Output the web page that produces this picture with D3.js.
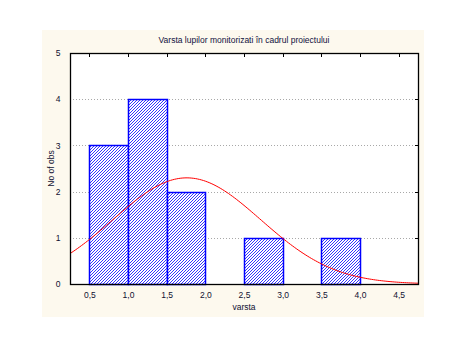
<!DOCTYPE html>
<html>
<head>
<meta charset="utf-8">
<script src="https://cdn.jsdelivr.net/npm/d3@7"></script>
<style>
  html, body { margin: 0; padding: 0; background: #ffffff; }
  svg { display: block; }
  text { font-family: "Liberation Sans", Arial, sans-serif; }
</style>
</head>
<body>
<div id="chart"></div>
<script>
// Histogram of wolf ages with a fitted normal curve
const binStarts = [0.5, 1.0, 1.5, 2.0, 2.5, 3.0, 3.5, 4.0];
const binCounts = [3, 4, 2, 0, 1, 0, 1, 0];
const binWidth = 0.5;
const xTicks = [0.5, 1.0, 1.5, 2.0, 2.5, 3.0, 3.5, 4.0, 4.5];
const yTicks = [0, 1, 2, 3, 4, 5];
const fitMean = 1.76;
const fitSd = 0.955;

const titleText = "Varsta lupilor monitorizati în cadrul proiectului";
const xLabel = "varsta";
const yLabel = "No of obs";

const W = 467, H = 339;
const plot = { left: 70, right: 418, top: 53, bottom: 284 };

const svg = d3.select("#chart").append("svg")
  .attr("width", W).attr("height", H);

// cream panel behind the chart
svg.append("rect")
  .attr("x", 42).attr("y", 30).attr("width", 382).attr("height", 287)
  .attr("fill", "#fdf9ee");

const defs = svg.append("defs");
const pat = defs.append("pattern")
  .attr("id", "hatch")
  .attr("patternUnits", "userSpaceOnUse")
  .attr("width", 3).attr("height", 3);
pat.append("rect").attr("width", 3).attr("height", 3).attr("fill", "#ffffff");
pat.append("path")
  .attr("d", "M0,3 L3,0 M-1,1 L1,-1 M2,4 L4,2")
  .attr("stroke", "#0000ff").attr("stroke-width", 0.8);

const x = d3.scaleLinear().domain([0.25, 4.75]).range([plot.left, plot.right]);
const y = d3.scaleLinear().domain([0, 5]).range([plot.bottom, plot.top]);

// plot area
svg.append("rect")
  .attr("x", plot.left).attr("y", plot.top)
  .attr("width", plot.right - plot.left).attr("height", plot.bottom - plot.top)
  .attr("fill", "#ffffff");

// horizontal dotted grid
svg.append("g").selectAll("line")
  .data(yTicks.filter(d => d > 0 && d < 5))
  .join("line")
  .attr("x1", plot.left).attr("x2", plot.right)
  .attr("y1", d => Math.round(y(d)) + 0.5).attr("y2", d => Math.round(y(d)) + 0.5)
  .attr("stroke", "#a8a8a8").attr("stroke-width", 1)
  .attr("stroke-dasharray", "1,2");

// bars
const bins = binStarts.map((s, i) => ({ x0: s, x1: s + binWidth, n: binCounts[i] }))
  .filter(b => b.n > 0);
svg.append("g").selectAll("rect")
  .data(bins)
  .join("rect")
  .attr("x", d => Math.round(x(d.x0)) + 0.5)
  .attr("y", d => Math.round(y(d.n)) + 0.5)
  .attr("width", d => Math.round(x(d.x1)) - Math.round(x(d.x0)))
  .attr("height", d => Math.round(y(0)) - Math.round(y(d.n)))
  .attr("fill", "url(#hatch)")
  .attr("stroke", "#0000ff").attr("stroke-width", 1.5);

// fitted normal curve, scaled to expected counts per bin
const total = d3.sum(binCounts);
const expected = v => total * binWidth *
  Math.exp(-0.5 * Math.pow((v - fitMean) / fitSd, 2)) / (fitSd * Math.sqrt(2 * Math.PI));
const curvePts = d3.range(0.25, 4.7501, 0.025).map(v => [v, expected(v)]);
svg.append("path")
  .datum(curvePts)
  .attr("d", d3.line().x(d => x(d[0])).y(d => y(d[1])))
  .attr("fill", "none").attr("stroke", "#ff0000").attr("stroke-width", 1);

// frame
svg.append("rect")
  .attr("x", plot.left + 0.5).attr("y", plot.top + 0.5)
  .attr("width", plot.right - plot.left).attr("height", plot.bottom - plot.top)
  .attr("fill", "none").attr("stroke", "#000000").attr("stroke-width", 1.3);

// axes
const tickFmt = d => d3.format(".1f")(d).replace(".", ",");
const xAxis = svg.append("g")
  .attr("transform", `translate(0,${plot.bottom + 0.5})`)
  .call(d3.axisBottom(x).tickValues(xTicks).tickFormat(tickFmt).tickSize(0).tickPadding(7));
const yAxis = svg.append("g")
  .attr("transform", `translate(${plot.left + 0.5},0)`)
  .call(d3.axisLeft(y).tickValues(yTicks).tickFormat(d3.format("d")).tickSize(0).tickPadding(10));
[xAxis, yAxis].forEach(g => {
  g.select(".domain").remove();
  g.selectAll("text").attr("fill", "#101030").attr("font-size", 8.5);
});

// inner tick marks on top and right edges
svg.append("g").selectAll("line")
  .data(xTicks)
  .join("line")
  .attr("x1", d => Math.round(x(d)) + 0.5).attr("x2", d => Math.round(x(d)) + 0.5)
  .attr("y1", plot.top).attr("y2", plot.top + 4)
  .attr("stroke", "#000");
svg.append("g").selectAll("line")
  .data(yTicks.filter(d => d > 0 && d < 5))
  .join("line")
  .attr("x1", plot.right - 3).attr("x2", plot.right)
  .attr("y1", d => Math.round(y(d)) + 0.5).attr("y2", d => Math.round(y(d)) + 0.5)
  .attr("stroke", "#000");

// titles
svg.append("text")
  .attr("x", (plot.left + plot.right) / 2).attr("y", 43)
  .attr("text-anchor", "middle").attr("font-size", 8.5).attr("fill", "#101040")
  .text(titleText);
svg.append("text")
  .attr("x", (plot.left + plot.right) / 2).attr("y", 310)
  .attr("text-anchor", "middle").attr("font-size", 8.5).attr("fill", "#101030")
  .text(xLabel);
svg.append("text")
  .attr("transform", `translate(54,${(plot.top + plot.bottom) / 2}) rotate(-90)`)
  .attr("text-anchor", "middle").attr("font-size", 8.5).attr("fill", "#101030")
  .text(yLabel);
</script>
</body>
</html>
